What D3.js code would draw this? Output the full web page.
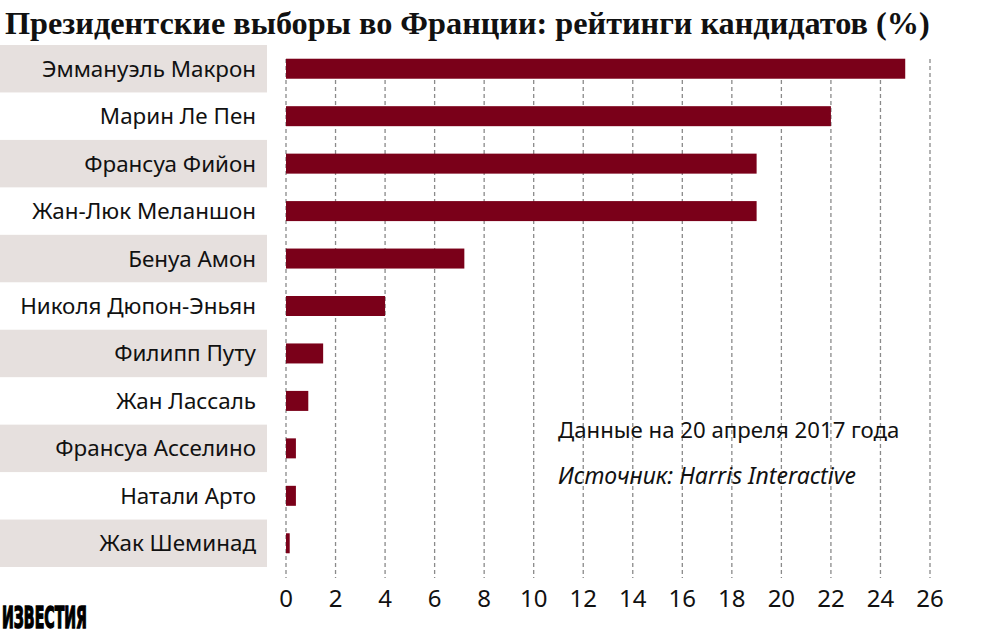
<!DOCTYPE html>
<html><head><meta charset="utf-8">
<script src="https://cdn.jsdelivr.net/npm/d3@7"></script>
<style>html,body{margin:0;padding:0;background:#fff;}svg{display:block;}</style>
</head><body>
<svg id="c" width="1000" height="635"></svg>
<script>
const titleText = "Президентские выборы во Франции: рейтинги кандидатов (%)";
const candidates = ["Эммануэль Макрон","Марин Ле Пен","Франсуа Фийон","Жан-Люк Меланшон","Бенуа Амон","Николя Дюпон-Эньян","Филипп Путу","Жан Лассаль","Франсуа Асселино","Натали Арто","Жак Шеминад"];
const ratings = [25, 22, 19, 19, 7.2, 4, 1.5, 0.9, 0.4, 0.4, 0.15];
const tickValues = [0,2,4,6,8,10,12,14,16,18,20,22,24,26];
const noteDate = "Данные на 20 апреля 2017 года";
const noteSource = "Источник: Harris Interactive";
const logoText = "ИЗВЕСТИЯ";

const svg = d3.select("#c");
const x = d3.scaleLinear().domain([0, 26]).range([286, 930]);
const y = d3.scaleBand().domain(candidates).range([45, 567]).padding(0);
const barH = 20;
const sansFont = "'Noto Sans', 'Open Sans', sans-serif";

// label bands
svg.append("g").selectAll("rect").data(candidates.filter((d,i)=>i%2===0)).join("rect")
  .attr("x", 0).attr("y", d => y(d)).attr("width", 267).attr("height", y.bandwidth())
  .attr("fill", "#e6e0de");

// gridlines
svg.append("g").selectAll("line").data(tickValues).join("line")
  .attr("x1", d => x(d)).attr("x2", d => x(d)).attr("y1", 59).attr("y2", 578)
  .attr("stroke", "#8a8a8a").attr("stroke-width", 1.3).attr("stroke-dasharray", "4,3");

// bars
svg.append("g").selectAll("rect").data(candidates).join("rect")
  .attr("x", x(0)).attr("y", d => y(d) + (y.bandwidth() - barH) / 2)
  .attr("width", (d,i) => x(ratings[i]) - x(0)).attr("height", barH)
  .attr("fill", "#7a0019");

// labels
svg.append("g").selectAll("text").data(candidates).join("text")
  .attr("x", 256).attr("y", d => y(d) + y.bandwidth()/2 + 8)
  .attr("text-anchor", "end").attr("font-family", sansFont).attr("font-size", 22.4)
  .attr("fill", "#111").text(d => d);

// tick labels
svg.append("g").selectAll("text").data(tickValues).join("text")
  .attr("x", d => x(d)).attr("y", 607).attr("text-anchor", "middle")
  .attr("font-family", sansFont).attr("font-size", 24).attr("fill", "#111").text(d => d);

// title
const t = svg.append("text").attr("x", 5).attr("y", 34).attr("font-family", "'Liberation Serif', serif")
  .attr("font-weight", "bold").attr("font-size", 36).attr("fill", "#111").text(titleText);
const tw = t.node().getComputedTextLength();
t.attr("font-size", 36 * 925 / tw);

// notes
svg.append("text").attr("x", 558).attr("y", 438).attr("font-family", sansFont)
  .attr("font-size", 22.2).attr("fill", "#111").text(noteDate);
svg.append("text").attr("x", 558).attr("y", 484).attr("font-family", sansFont)
  .attr("font-style", "italic").attr("font-size", 23).attr("fill", "#111").text(noteSource);

// logo
svg.append("text").attr("x", 2).attr("y", 628).attr("font-family", "'DejaVu Sans Condensed', 'DejaVu Sans', sans-serif")
  .attr("font-weight", "bold").attr("font-size", 30).attr("fill", "#000")
  .attr("stroke", "#000").attr("stroke-width", 1.4)
  .attr("textLength", 85).attr("lengthAdjust", "spacingAndGlyphs").text(logoText);
</script>
</body></html>
